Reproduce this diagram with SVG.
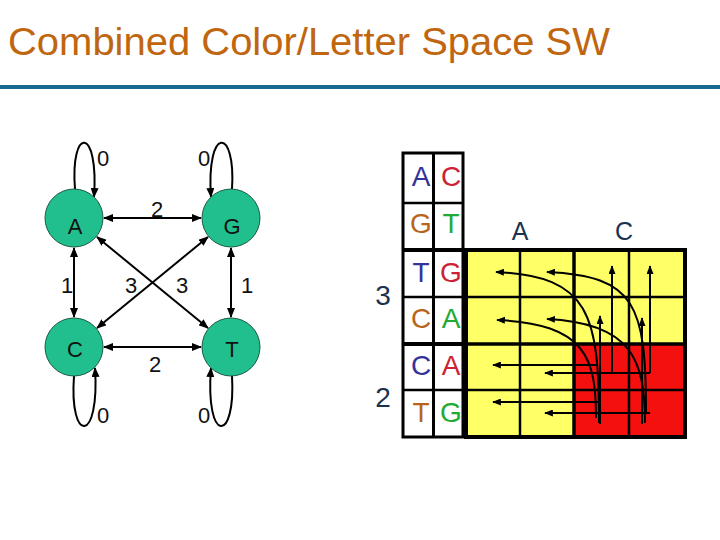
<svg xmlns="http://www.w3.org/2000/svg" width="720" height="540" viewBox="0 0 720 540">
<defs>
<style>
text{font-family:"Liberation Sans",Arial,sans-serif}
.node circle{fill:#22BF8E;stroke:#1a5a45;stroke-width:1}
.node text{font-size:22px;text-anchor:middle;fill:#111}
.lbl{font-size:22px;text-anchor:middle;fill:#111}
.edge{stroke:#000;stroke-width:2;fill:none}
.g{stroke:#000;stroke-width:2;fill:none}
.tl{font-size:28px;text-anchor:middle}
.b{fill:#333399}.r{fill:#CC2233}.o{fill:#B8651B}.gr{fill:#22AA33}
.nv{fill:#1C3350;text-anchor:middle}
</style>
<marker id="ah" viewBox="0 0 10 8" refX="9" refY="4" markerWidth="10" markerHeight="8" markerUnits="userSpaceOnUse" orient="auto-start-reverse"><path d="M0,0 L10,4 L0,8 z" fill="#000"/></marker>
<marker id="sh" viewBox="0 0 10 8" refX="9" refY="4" markerWidth="9" markerHeight="7" markerUnits="userSpaceOnUse" orient="auto"><path d="M0,0 L10,4 L0,8 z" fill="#000"/></marker>
</defs>
<rect width="720" height="540" fill="#fff"/>
<text x="8" y="55" font-size="38" fill="#C0660F" textLength="602" lengthAdjust="spacingAndGlyphs">Combined Color/Letter Space SW</text>
<rect x="0" y="85" width="720" height="4" fill="#176990"/>

<g id="connectors">
<line class="edge" x1="104" y1="218" x2="201" y2="218" marker-start="url(#ah)" marker-end="url(#ah)"/>
<line class="edge" x1="104" y1="347" x2="201" y2="347" marker-start="url(#ah)" marker-end="url(#ah)"/>
<line class="edge" x1="74" y1="248" x2="74" y2="317" marker-start="url(#ah)" marker-end="url(#ah)"/>
<line class="edge" x1="231" y1="248" x2="231" y2="317" marker-start="url(#ah)" marker-end="url(#ah)"/>
<line class="edge" x1="97" y1="237" x2="208" y2="328" marker-start="url(#ah)" marker-end="url(#ah)"/>
<line class="edge" x1="97" y1="328" x2="208" y2="237" marker-start="url(#ah)" marker-end="url(#ah)"/>
<path class="edge" d="M75,189 C70,126 99,126 94,197" marker-end="url(#ah)"/>
<path class="edge" d="M232,189 C236,126 206,126 211,197" marker-end="url(#ah)"/>
<path class="edge" d="M74,376 C69,444 100,444 95,368" marker-end="url(#ah)"/>
<path class="edge" d="M232,376 C236,444 205,444 211,368" marker-end="url(#ah)"/>
</g>
<text class="lbl" x="103" y="166">0</text>
<text class="lbl" x="204" y="166">0</text>
<text class="lbl" x="103" y="423">0</text>
<text class="lbl" x="204" y="423">0</text>
<text class="lbl" x="157" y="217">2</text>
<text class="lbl" x="155" y="372">2</text>
<text class="lbl" x="67" y="293">1</text>
<text class="lbl" x="247" y="293">1</text>
<text class="lbl" x="131" y="293">3</text>
<text class="lbl" x="182" y="293">3</text>

<g id="A" class="node"><circle cx="74" cy="218" r="29"/><text x="75" y="234">A</text></g>
<g id="G" class="node"><circle cx="231" cy="218" r="29"/><text x="232" y="234">G</text></g>
<g id="C" class="node"><circle cx="74" cy="347" r="29"/><text x="75" y="357">C</text></g>
<g id="T" class="node"><circle cx="231" cy="347" r="29"/><text x="232" y="357">T</text></g>

<g id="table">
<rect x="403" y="153" width="60" height="284" fill="#fff" stroke="#000" stroke-width="3"/>
<line x1="433.5" y1="153" x2="433.5" y2="437" stroke="#000" stroke-width="3"/>
<line x1="403" y1="203" x2="463" y2="203" stroke="#000" stroke-width="2.5"/>
<line x1="403" y1="250" x2="463" y2="250" stroke="#000" stroke-width="4"/>
<line x1="403" y1="297" x2="463" y2="297" stroke="#000" stroke-width="2.5"/>
<line x1="403" y1="344" x2="463" y2="344" stroke="#000" stroke-width="4"/>
<line x1="403" y1="390" x2="463" y2="390" stroke="#000" stroke-width="2.5"/>
<text class="tl b" x="421" y="186">A</text><text class="tl r" x="451" y="186">C</text>
<text class="tl o" x="421" y="233">G</text><text class="tl gr" x="451" y="233">T</text>
<text class="tl b" x="421" y="282">T</text><text class="tl r" x="451" y="282">G</text>
<text class="tl o" x="421" y="328">C</text><text class="tl gr" x="451" y="328">A</text>
<text class="tl b" x="421" y="375">C</text><text class="tl r" x="451" y="375">A</text>
<text class="tl o" x="421" y="422">T</text><text class="tl gr" x="451" y="422">G</text>
</g>
<text class="nv" x="383" y="305" font-size="28">3</text>
<text class="nv" x="383" y="407" font-size="28">2</text>
<text class="nv" x="520" y="240" font-size="25">A</text>
<text class="nv" x="624" y="240" font-size="25">C</text>

<g id="grid">
<rect x="466" y="250" width="219" height="187" fill="#FFFF66"/>
<rect x="574" y="344" width="111" height="93" fill="#F51010"/>
<g stroke="#000" stroke-width="2.5">
<line x1="520" y1="250" x2="520" y2="437"/>
<line x1="629" y1="250" x2="629" y2="437"/>
<line x1="466" y1="297" x2="685" y2="297"/>
<line x1="466" y1="390" x2="685" y2="390"/>
</g>
<g stroke="#000" stroke-width="3.5">
<line x1="574" y1="250" x2="574" y2="437"/>
<line x1="466" y1="344" x2="685" y2="344"/>
</g>
<rect x="466" y="250" width="219" height="187" fill="none" stroke="#000" stroke-width="4"/>
</g>

<g id="grid-arrows">
<line class="g" x1="598" y1="365" x2="493" y2="365" marker-end="url(#sh)"/>
<line class="g" x1="650" y1="373" x2="545" y2="373" marker-end="url(#sh)"/>
<line class="g" x1="598" y1="402" x2="493" y2="402" marker-end="url(#sh)"/>
<line class="g" x1="650" y1="413" x2="545" y2="413" marker-end="url(#sh)"/>
<line class="g" x1="612" y1="373" x2="612" y2="266" marker-end="url(#sh)"/>
<line class="g" x1="650" y1="373" x2="650" y2="266" marker-end="url(#sh)"/>
<line class="g" x1="600" y1="424" x2="600" y2="316" marker-end="url(#sh)"/>
<line class="g" x1="642" y1="424" x2="642" y2="318" marker-end="url(#sh)"/>
<path class="g" d="M599,423 C599,315 590,276 496,272" marker-end="url(#sh)"/>
<path class="g" d="M646,413 C646,305 636,276 547,272" marker-end="url(#sh)"/>
<path class="g" d="M596,418 C596,358 586,324 497,320" marker-end="url(#sh)"/>
<path class="g" d="M645,423 C645,360 632,323 547,319" marker-end="url(#sh)"/>
</g>
</svg>
